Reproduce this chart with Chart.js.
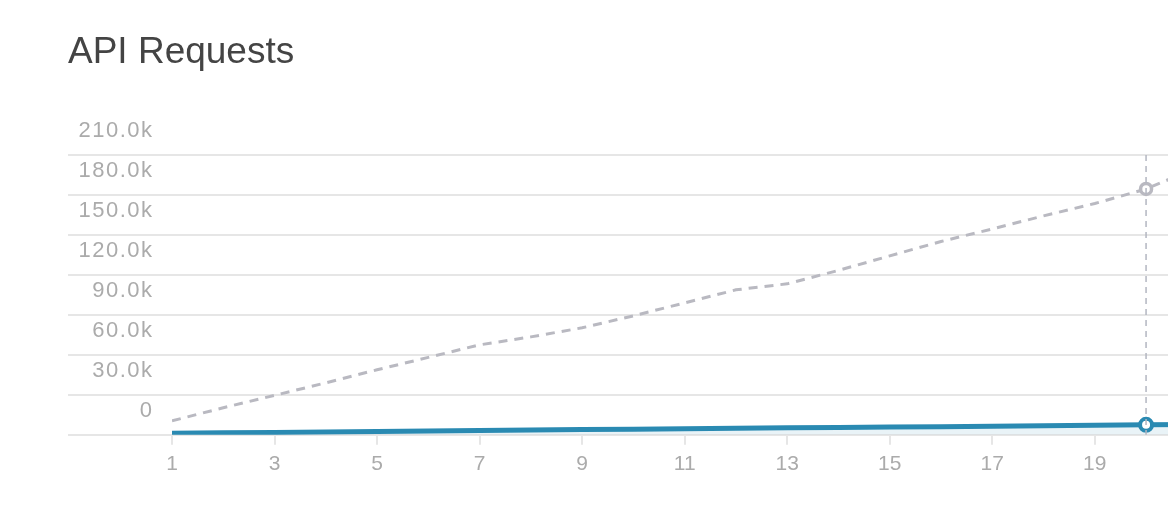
<!DOCTYPE html>
<html>
<head>
<meta charset="utf-8">
<script src="https://cdn.jsdelivr.net/npm/chart.js@4"></script>
<style>
  html, body { margin: 0; padding: 0; background: #fff; overflow: hidden; }
  #wrap { width: 1168px; height: 520px; overflow: hidden; }
</style>
</head>
<body>
<div id="wrap">
  <canvas id="chart" width="1216" height="520"></canvas>
</div>
<script>
// days of the period, request counts for this period and the previous one
const days = [1, 2, 3, 4, 5, 6, 7, 8, 9, 10, 11, 12, 13, 14, 15, 16, 17, 18, 19, 20, 21];
const currentRequests = [1200, 1500, 1800, 2100, 2500, 2900, 3300, 3600, 3900, 4200, 4600,
  4900, 5200, 5500, 5800, 6100, 6500, 6800, 7100, 7500, 7800];
const previousRequests = [10500, 20300, 29600, 39000, 48800, 58100, 67500, 73500, 80300, 89300, 99000,
  108800, 113300, 123400, 134300, 145100, 154500, 164300, 173600, 184500, 200600];
const yTicks = [0, 30000, 60000, 90000, 120000, 150000, 180000, 210000];
const hoverIndex = 19; // day 20 is the hovered point

const blue = "#2a8ab2";
const grey = "#b9b9c1";
const gridColor = "#e6e6e6";
const labelColor = "#ababab";
const font = "'Liberation Sans', Arial, sans-serif";

// radius only on the hovered point
function hoverRadius(r) {
  return days.map((d, i) => (i === hoverIndex ? r : 0));
}

// dashed crosshair through the hovered day
const crosshair = {
  id: "crosshair",
  afterDatasetsDraw(chart) {
    const { ctx, chartArea, scales } = chart;
    const x = scales.x.getPixelForValue(days[hoverIndex]);
    ctx.save();
    ctx.strokeStyle = "#b3b6c1";
    ctx.lineWidth = 1.5;
    ctx.setLineDash([6, 5]);
    ctx.beginPath();
    ctx.moveTo(x, chartArea.top);
    ctx.lineTo(x, chartArea.bottom);
    ctx.stroke();
    ctx.restore();
  },
};

// the y labels are a bit letter-spaced in the original
const spacedLabels = {
  id: "spacedLabels",
  afterLayout(chart) {
    const scale = chart.scales.y;
    if (scale._spaced) return;
    const draw = scale.drawLabels;
    scale.drawLabels = function (area) {
      this.ctx.save();
      this.ctx.letterSpacing = "1.5px";
      draw.call(this, area);
      this.ctx.restore();
    };
    scale._spaced = true;
  },
};

new Chart(document.getElementById("chart"), {
  type: "line",
  data: {
    datasets: [
      {
        label: "Current",
        data: days.map((d, i) => ({ x: d, y: currentRequests[i] })),
        borderColor: blue,
        borderWidth: 5,
        backgroundColor: "rgba(42, 138, 178, 0.10)",
        fill: "origin",
        tension: 0,
        pointRadius: hoverRadius(6),
        pointBorderWidth: 4,
        pointBorderColor: blue,
        pointBackgroundColor: "#fff",
        order: 1,
      },
      {
        label: "Previous",
        data: days.map((d, i) => ({ x: d, y: previousRequests[i] })),
        borderColor: grey,
        borderWidth: 3,
        borderDash: [9, 7],
        fill: false,
        tension: 0,
        pointRadius: hoverRadius(5.5),
        pointBorderWidth: 3.5,
        pointBorderColor: grey,
        pointBackgroundColor: "#fff",
        order: 2,
      },
    ],
  },
  options: {
    responsive: false,
    animation: false,
    layout: { padding: { left: 68, right: 0, top: 0, bottom: 36 } },
    plugins: {
      legend: { display: false },
      tooltip: { enabled: false },
      title: {
        display: true,
        text: "API Requests",
        align: "start",
        color: "#444",
        font: { family: font, size: 37, weight: "normal" },
        padding: { top: 31, bottom: 79.6 },
      },
    },
    scales: {
      x: {
        type: "linear",
        min: days[0],
        max: days[days.length - 1],
        border: { display: false },
        grid: {
          drawOnChartArea: false,
          drawTicks: true,
          tickLength: 10,
          color: gridColor,
          lineWidth: 2,
        },
        ticks: {
          stepSize: 2,
          padding: 7,
          color: labelColor,
          font: { family: font, size: 21 },
          maxRotation: 0,
        },
      },
      y: {
        min: yTicks[0],
        max: yTicks[yTicks.length - 1],
        border: { display: false },
        afterFit(scale) {
          scale.width = 104;
        },
        afterBuildTicks(scale) {
          scale.ticks = yTicks.map((v) => ({ value: v }));
        },
        grid: {
          color: gridColor,
          lineWidth: 2,
          tickLength: 104,
        },
        ticks: {
          padding: -85.5,
          labelOffset: -24,
          color: labelColor,
          font: { family: font, size: 22 },
          callback: (v) => (v === 0 ? "0" : (v / 1000).toFixed(1) + "k"),
        },
      },
    },
  },
  plugins: [crosshair, spacedLabels],
});
</script>
</body>
</html>
